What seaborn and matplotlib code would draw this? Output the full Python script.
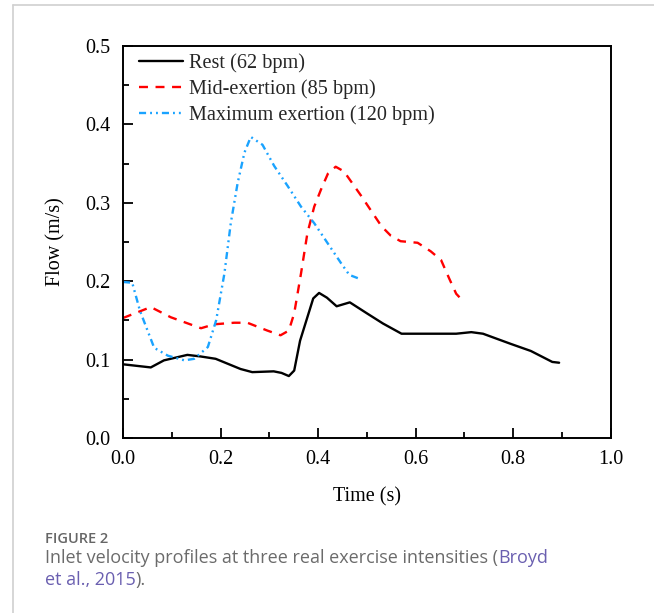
import matplotlib
matplotlib.use("Agg")
import matplotlib.pyplot as plt
import seaborn as sns
import pandas as pd
from matplotlib.ticker import MultipleLocator
from matplotlib.lines import Line2D

# ---- data ----
rest_t = [0.0, 0.057, 0.084, 0.132, 0.159, 0.19, 0.241, 0.265, 0.309, 0.325, 0.34, 0.351, 0.363,
          0.39, 0.402, 0.418, 0.438, 0.465, 0.50, 0.533, 0.571, 0.683, 0.714, 0.738, 0.795, 0.836,
          0.880, 0.894]
rest_v = [0.094, 0.090, 0.099, 0.106, 0.104, 0.101, 0.088, 0.084, 0.085, 0.083, 0.079, 0.086, 0.124,
          0.178, 0.185, 0.179, 0.168, 0.173, 0.159, 0.146, 0.133, 0.133, 0.135, 0.133, 0.120, 0.111,
          0.097, 0.096]

mid_t = [0.0, 0.057, 0.098, 0.16, 0.187, 0.228, 0.255, 0.296, 0.323, 0.34, 0.351, 0.365, 0.378,
         0.392, 0.406, 0.42, 0.436, 0.453, 0.487, 0.53, 0.549, 0.569, 0.604, 0.631, 0.652, 0.669,
         0.683, 0.698]
mid_v = [0.153, 0.167, 0.154, 0.140, 0.145, 0.147, 0.147, 0.137, 0.131, 0.137, 0.159, 0.21, 0.261,
         0.295, 0.317, 0.337, 0.346, 0.340, 0.310, 0.270, 0.258, 0.251, 0.249, 0.238, 0.227, 0.203,
         0.184, 0.174]

max_t = [0.0, 0.019, 0.035, 0.064, 0.092, 0.126, 0.146, 0.174, 0.191, 0.208, 0.221, 0.235, 0.249,
         0.262, 0.286, 0.31, 0.338, 0.365, 0.392, 0.42, 0.447, 0.464, 0.485]
max_v = [0.199, 0.198, 0.162, 0.115, 0.105, 0.099, 0.101, 0.116, 0.15, 0.21, 0.274, 0.325, 0.364,
         0.384, 0.374, 0.347, 0.321, 0.295, 0.274, 0.248, 0.223, 0.208, 0.203]

series_labels = ["Rest (62 bpm)", "Mid-exertion (85 bpm)", "Maximum exertion (120 bpm)"]
x_ticks = [0.0, 0.2, 0.4, 0.6, 0.8, 1.0]
y_ticks = [0.0, 0.1, 0.2, 0.3, 0.4, 0.5]

sns.set_theme(style="white")
plt.rcParams["font.family"] = ["Liberation Serif", "DejaVu Serif"]

fig = plt.figure(figsize=(6.54, 6.13), dpi=100)
ax = fig.add_axes([0.188, 0.2855, 0.746, 0.6395])

colors = ["black", "#ff0000", "#1aa3ff"]
dash_styles = [None, (3.8, 3.2), (3.0, 1.7, 0.8, 1.7, 0.8, 1.7)]
data_sets = [(rest_t, rest_v), (mid_t, mid_v), (max_t, max_v)]
LW = 1.7

handles = []
for (t, v), lab, c, d in zip(data_sets, series_labels, colors, dash_styles):
    df = pd.DataFrame({"t": t, "v": v})
    n_before = len(ax.lines)
    sns.lineplot(data=df, x="t", y="v", ax=ax, color=c, linewidth=LW, legend=False)
    line = ax.lines[n_before]
    if d is not None:
        line.set_dashes(d)
    h = Line2D([], [], color=c, linewidth=LW)
    if d is not None:
        h.set_dashes(d)
    handles.append(h)

ax.set_xlim(0, 1.0)
ax.set_ylim(0, 0.5)
ax.set_xticks(x_ticks)
ax.set_yticks(y_ticks)
ax.set_xticklabels([f"{x:.1f}" for x in x_ticks])
ax.set_yticklabels([f"{y:.1f}" for y in y_ticks])
ax.xaxis.set_minor_locator(MultipleLocator(0.1))
ax.yaxis.set_minor_locator(MultipleLocator(0.05))
ax.tick_params(which="major", direction="in", length=7, width=1.3, color="black",
               labelsize=14.5, bottom=True, left=True, top=False, right=False,
               labelcolor="black")
ax.tick_params(axis="x", which="major", pad=8.5)
ax.tick_params(axis="y", which="major", pad=9)
ax.tick_params(which="minor", direction="in", length=4, width=1.3, color="black",
               bottom=True, left=True, top=False, right=False)
for s in ax.spines.values():
    s.set_visible(True)
    s.set_color("black")
    s.set_linewidth(1.4)

ax.set_xlabel("Time (s)", fontsize=14.5, labelpad=13, color="black")
ax.set_ylabel("Flow (m/s)", fontsize=14.5, labelpad=14, color="black")

leg = ax.legend(handles, series_labels, loc="upper left", frameon=False, fontsize=14.6,
                handlelength=2.2, handletextpad=0.26, labelspacing=0.31,
                borderpad=0.38, borderaxespad=0.0, bbox_to_anchor=(8 / 488, 1.0))

# frame lines of the page
fig.add_artist(Line2D([13 / 654, 13 / 654], [0, 1 - 5 / 613], transform=fig.transFigure,
                      color="#d0d0d0", linewidth=1.2))
fig.add_artist(Line2D([13 / 654, 1], [1 - 5 / 613, 1 - 5 / 613], transform=fig.transFigure,
                      color="#d0d0d0", linewidth=1.2))

# caption
cap_font = ["Open Sans", "DejaVu Sans"]
gray = "#6b6b6b"
link = "#6a5fb0"
fig.text(45 / 654, 1 - 543 / 613, "FIGURE 2", fontsize=10.5, color="#666666",
         family=cap_font, fontweight="semibold", va="baseline")

fig.canvas.draw()
renderer = fig.canvas.get_renderer()

def seq(x0, y, parts):
    x = x0
    for txt, col in parts:
        t = fig.text(x, y, txt, fontsize=13, color=col, family=cap_font, va="baseline")
        bb = t.get_window_extent(renderer=renderer)
        x += bb.width / fig.bbox.width

seq(45 / 654, 1 - 563 / 613, [("Inlet velocity profiles at three real exercise intensities (", gray),
                               ("Broyd", link)])
seq(45 / 654, 1 - 585 / 613, [("et al., 2015", link), (").", gray)])

fig.savefig("out.png", dpi=100)
